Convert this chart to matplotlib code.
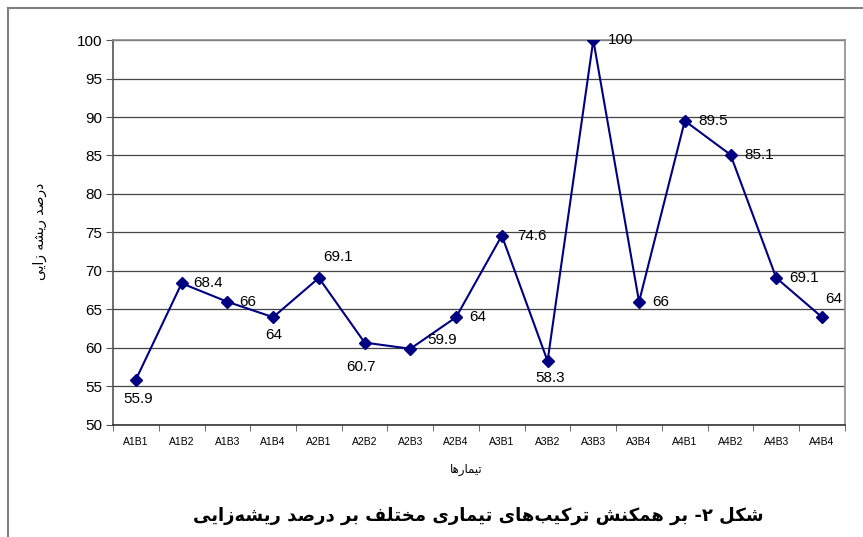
import matplotlib
matplotlib.use("Agg")
import matplotlib.pyplot as plt
from matplotlib.lines import Line2D
import numpy as np

# Data
categories = ["A1B1", "A1B2", "A1B3", "A1B4", "A2B1", "A2B2", "A2B3", "A2B4",
              "A3B1", "A3B2", "A3B3", "A3B4", "A4B1", "A4B2", "A4B3", "A4B4"]
rooting = [55.9, 68.4, 66, 64, 69.1, 60.7, 59.9, 64,
           74.6, 58.3, 100, 66, 89.5, 85.1, 69.1, 64]
value_labels = ["55.9", "68.4", "66", "64", "69.1", "60.7", "59.9", "64",
                "74.6", "58.3", "100", "66", "89.5", "85.1", "69.1", "64"]
y_ticks = [50, 55, 60, 65, 70, 75, 80, 85, 90, 95, 100]

# label placement (pixels from point) and alignment
label_offsets = [(2, -19), (12, 0), (12, 0), (1, -18), (19, 21), (-4, -24),
                 (17, 9), (13, 0), (15, 0), (3, -17), (15, 0), (13, 0),
                 (14, 0), (14, 0), (13, 0), (12, 18)]
label_ha = ["center", "left", "left", "center", "center", "center",
            "left", "left", "left", "center", "left", "left",
            "left", "left", "left", "center"]

x_title = "تیمارها"
y_title = "درصد ریشه زایی"
caption = "شکل ۲- بر همکنش ترکیب\u200cهای تیماری مختلف بر درصد ریشه\u200cزایی"

# Persian letters -> presentation forms (isolated, final, initial, medial)
FORMS = {
    "ا": ("\uFE8D", "\uFE8E", None, None),
    "ب": ("\uFE8F", "\uFE90", "\uFE91", "\uFE92"),
    "ت": ("\uFE95", "\uFE96", "\uFE97", "\uFE98"),
    "خ": ("\uFEA5", "\uFEA6", "\uFEA7", "\uFEA8"),
    "د": ("\uFEA9", "\uFEAA", None, None),
    "ر": ("\uFEAD", "\uFEAE", None, None),
    "ز": ("\uFEAF", "\uFEB0", None, None),
    "ش": ("\uFEB5", "\uFEB6", "\uFEB7", "\uFEB8"),
    "ص": ("\uFEB9", "\uFEBA", "\uFEBB", "\uFEBC"),
    "ف": ("\uFED1", "\uFED2", "\uFED3", "\uFED4"),
    "ل": ("\uFEDD", "\uFEDE", "\uFEDF", "\uFEE0"),
    "م": ("\uFEE1", "\uFEE2", "\uFEE3", "\uFEE4"),
    "ن": ("\uFEE5", "\uFEE6", "\uFEE7", "\uFEE8"),
    "ه": ("\uFEE9", "\uFEEA", "\uFEEB", "\uFEEC"),
    "ک": ("\uFB8E", "\uFB8F", "\uFB90", "\uFB91"),
    "ی": ("\uFBFC", "\uFBFD", "\uFBFE", "\uFBFF"),
}


def shape(text):
    out = []
    for i, ch in enumerate(text):
        if ch not in FORMS:
            if ch != "\u200c":
                out.append(ch)
            continue
        prev = text[i - 1] if i > 0 else ""
        nxt = text[i + 1] if i + 1 < len(text) else ""
        join_prev = prev in FORMS and FORMS[prev][2] is not None
        join_next = FORMS[ch][2] is not None and nxt in FORMS
        iso, fin, ini, med = FORMS[ch]
        if join_prev and join_next:
            out.append(med)
        elif join_prev:
            out.append(fin)
        elif join_next:
            out.append(ini)
        else:
            out.append(iso)
    return "".join(out)[::-1]


plt.rcParams["font.family"] = ["Liberation Sans", "DejaVu Sans"]

fig = plt.figure(figsize=(8.63, 5.37), dpi=100)
ax = fig.add_axes([0.131, 0.2086, 0.848, 0.7169])

x = np.arange(len(categories))
ax.plot(x, rooting, color="#000080", lw=1.5, marker="D", markersize=6.5,
        zorder=3)

for xi, yi, txt, off, ha in zip(x, rooting, value_labels, label_offsets, label_ha):
    ax.annotate(txt, (xi, yi), xytext=off, textcoords="offset pixels",
                ha=ha, va="center", fontsize=11, color="black")

ax.set_xlim(-0.5, len(categories) - 0.5)
ax.set_ylim(50, 100)
ax.set_yticks(y_ticks)
ax.set_xticks(x)
ax.set_xticklabels(categories, fontsize=7.5)
ax.set_xticks(np.arange(len(categories) + 1) - 0.5, minor=True)
ax.tick_params(axis="x", which="major", length=0, pad=9)
ax.tick_params(axis="x", which="minor", length=4, color="#555555")
ax.tick_params(axis="y", length=5, labelsize=11, color="#555555", pad=3)

ax.grid(axis="y", color="#444444", lw=0.9)
ax.set_axisbelow(True)
for side in ["top", "right"]:
    ax.spines[side].set_color("#8c8c8c")
    ax.spines[side].set_linewidth(1.2)
ax.spines["left"].set_color("#555555")
ax.spines["left"].set_linewidth(1.2)
ax.spines["bottom"].set_color("#333333")
ax.spines["bottom"].set_linewidth(1.2)

fig.text(0.046, 0.57, shape(y_title), rotation=90, ha="center", va="center",
         fontsize=10, family=["DejaVu Sans"])
fig.text(0.54, 0.125, shape(x_title), ha="center", va="center",
         fontsize=8.5, family=["DejaVu Sans"])
fig.text(0.554, 0.04, shape(caption), ha="center", va="center",
         fontsize=13, fontweight="bold", family=["DejaVu Sans"])

# outer frame (top and left edges)
fig.add_artist(Line2D([0.0095, 0.0095], [0.0, 0.985], color="#808080", lw=1.5))
fig.add_artist(Line2D([0.0095, 1.0], [0.985, 0.985], color="#808080", lw=1.5))

fig.savefig("out.png", dpi=100)
